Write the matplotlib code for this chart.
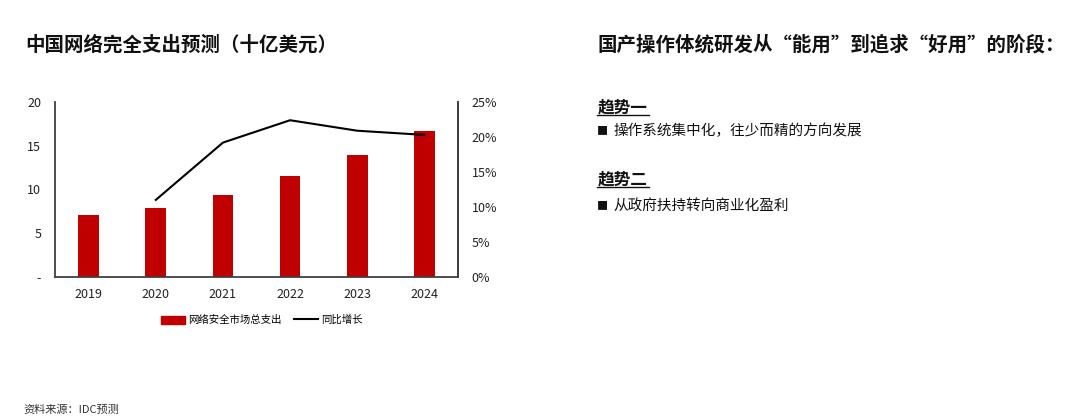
import matplotlib
matplotlib.use("Agg")
import matplotlib.pyplot as plt
from matplotlib.lines import Line2D
from matplotlib.patches import Patch

plt.rcParams['font.family'] = ['Noto Sans CJK SC', 'DejaVu Sans']

# data
years = ["2019", "2020", "2021", "2022", "2023", "2024"]
spend = [7.07, 7.91, 9.40, 11.51, 13.92, 16.74]          # 十亿美元
growth = [None, 11.0, 19.2, 22.4, 20.9, 20.3]             # 同比增长, %
left_ticks = [0, 5, 10, 15, 20]
left_labels = ["-", "5", "10", "15", "20"]
right_ticks = [0, 5, 10, 15, 20, 25]

RED = "#C00000"
SPINE = "#404040"

fig = plt.figure(figsize=(10.8, 4.2), dpi=100)
ax = fig.add_axes([0.051, 0.341, 0.373, 0.416])
x = list(range(len(years)))
ax.bar(x, spend, width=0.31, color=RED, zorder=2)
ax.set_xlim(-0.5, 5.5)
ax.set_ylim(0, 20)
ax.set_yticks(left_ticks, left_labels)
ax.set_xticks(x, years)
ax.tick_params(length=0, labelsize=9, colors="#222222")
ax.tick_params(axis="y", pad=10)
ax.tick_params(axis="x", pad=8)
ax.spines["top"].set_visible(False)
for s in ["left", "bottom", "right"]:
    ax.spines[s].set_color(SPINE)
    ax.spines[s].set_linewidth(1.3)

ax2 = ax.twinx()
gx = [i for i, g in zip(x, growth) if g is not None]
gy = [g for g in growth if g is not None]
ax2.plot(gx, gy, color="black", lw=1.5, zorder=3)
ax2.set_ylim(0, 25)
ax2.set_yticks(right_ticks, [f"{t}%" for t in right_ticks])
ax2.tick_params(length=0, labelsize=9, colors="#222222", pad=10)
for s in ["top", "left", "bottom"]:
    ax2.spines[s].set_visible(False)
ax2.spines["right"].set_color(SPINE)
ax2.spines["right"].set_linewidth(1.3)

handles = [Patch(color=RED, label="网络安全市场总支出"),
           Line2D([], [], color="black", lw=1.5, label="同比增长")]
fig.legend(handles=handles, loc="center", bbox_to_anchor=(0.242, 0.238),
           ncol=2, frameon=False, fontsize=7.5, handlelength=2.3,
           handleheight=0.8, columnspacing=1.2, handletextpad=0.3)

# titles and notes
fig.text(0.023, 0.893, "中国网络完全支出预测（十亿美元）", fontsize=14,
         fontweight="bold", va="center", color="#111111")
fig.text(0.553, 0.893, "国产操作体统研发从“能用”到追求“好用”的阶段：",
         fontsize=14, fontweight="bold", va="center", color="#111111")

trends = [("趋势一", "操作系统集中化，往少而精的方向发展", 107, 131),
          ("趋势二", "从政府扶持转向商业化盈利", 179, 206)]
for head, body, hy, by in trends:
    fig.text(0.553, 1 - hy / 420, head, fontsize=12, fontweight="bold",
             va="center", color="#111111")
    fig.add_artist(Line2D([597 / 1080, 649 / 1080],
                          [1 - (hy + 8) / 420] * 2, color="#111111", lw=1))
    fig.text(0.553, 1 - by / 420, "■", fontsize=8, va="center",
             color="#111111")
    fig.text(0.568, 1 - by / 420, body, fontsize=10.5, va="center",
             color="#111111")

fig.text(0.022, 1 - 410 / 420, "资料来源：IDC预测", fontsize=8,
         va="center", color="#333333")

fig.savefig("out.png", dpi=100)
